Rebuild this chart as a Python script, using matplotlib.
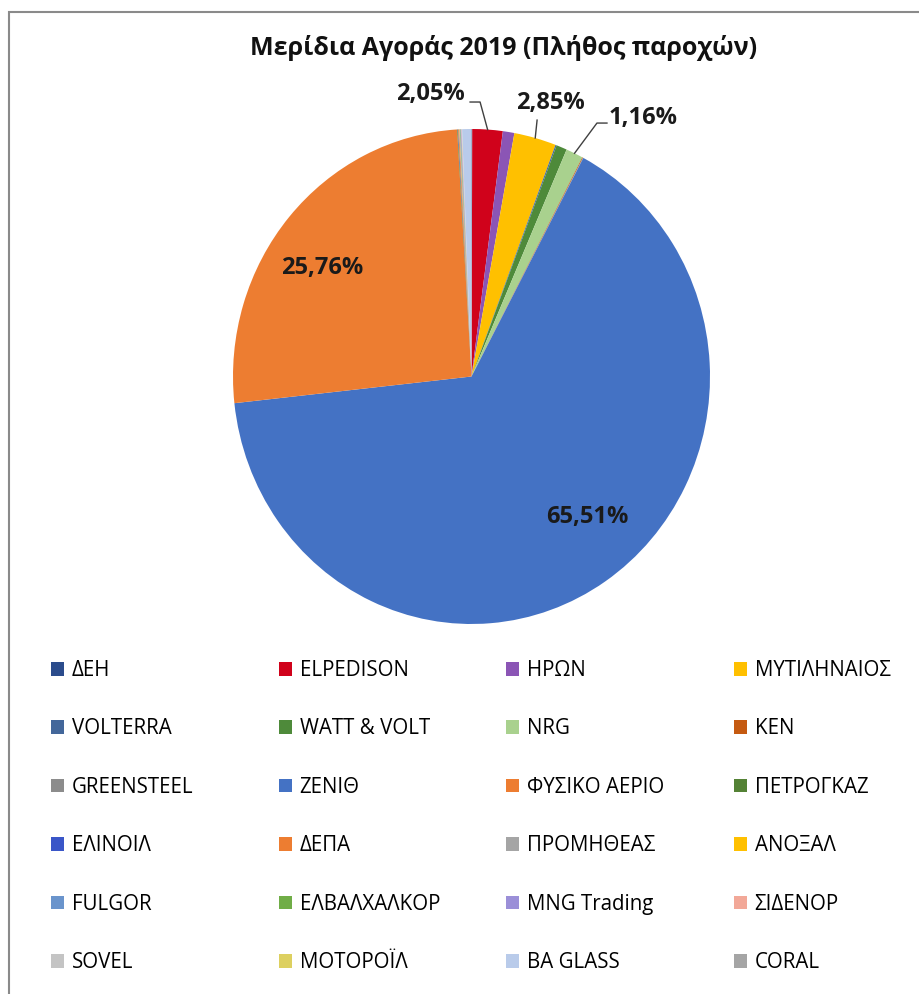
import numpy as np
import matplotlib
matplotlib.use("Agg")
import matplotlib.pyplot as plt
from matplotlib.patches import Rectangle

plt.rcParams['font.family'] = ['Open Sans', 'DejaVu Sans']

title = "Μερίδια Αγοράς 2019 (Πλήθος παροχών)"

companies = ["ΔΕΗ", "ELPEDISON", "ΗΡΩΝ", "ΜΥΤΙΛΗΝΑΙΟΣ",
             "VOLTERRA", "WATT & VOLT", "NRG", "ΚΕΝ",
             "GREENSTEEL", "ΖΕΝΙΘ", "ΦΥΣΙΚΟ ΑΕΡΙΟ", "ΠΕΤΡΟΓΚΑΖ",
             "ΕΛΙΝΟΙΛ", "ΔΕΠΑ", "ΠΡΟΜΗΘΕΑΣ", "ΑΝΟΞΑΛ",
             "FULGOR", "ΕΛΒΑΛΧΑΛΚΟΡ", "MNG Trading", "ΣΙΔΕΝΟΡ",
             "SOVEL", "ΜΟΤΟΡΟΪΛ", "BA GLASS", "CORAL"]
# share of supply points (%), unlabeled ones estimated
shares = [0.05, 2.05, 0.78, 2.85,
          0.08, 0.72, 1.16, 0.05,
          0.03, 65.51, 25.76, 0.04,
          0.03, 0.06, 0.03, 0.02,
          0.03, 0.03, 0.04, 0.02,
          0.02, 0.01, 0.62, 0.01]
colors = ["#2B4C8C", "#D0021B", "#8B55B5", "#FFC000",
          "#43679A", "#4E8A3A", "#A9D18E", "#C55A11",
          "#8C8C8C", "#4472C4", "#ED7D31", "#548235",
          "#3A56C8", "#ED7D31", "#A5A5A5", "#FFC000",
          "#6A94CC", "#70AD47", "#9B8FD8", "#F2A898",
          "#C4C4C4", "#DDD060", "#B9CBEA", "#A5A5A5"]

# which slices get a label, where the text sits (pie radius = 1), and leader elbows
labelled = [1, 3, 6, 9, 10]
label_pos = {1: (-0.174, 1.141), 3: (0.329, 1.105), 6: (0.719, 1.044),
             9: (0.484, -0.568), 10: (-0.627, 0.438)}
leader_elbow = {1: [(-0.006, 1.109), (0.036, 1.109)],
                3: [(0.275, 1.036)],
                6: [(0.568, 1.024), (0.526, 1.024)]}

W, H = 920, 994
fig = plt.figure(figsize=(W / 100, H / 100), dpi=100)
fig.patches.append(Rectangle((9 / W, -0.01), 1.0, 1 - 12 / H + 0.01,
                             transform=fig.transFigure, fill=False,
                             edgecolor="#8a8a8a", linewidth=1.5))

# pie is slightly stretched vertically in the original
cx, cy, rx, ry = 471.5, 376.5, 238.5, 247.5
ax = fig.add_axes([(cx - rx) / W, 1 - (cy + ry) / H, 2 * rx / W, 2 * ry / H])
wedges, _ = ax.pie(shares, colors=colors, startangle=90, counterclock=False,
                   radius=1.0, wedgeprops=dict(linewidth=0))
ax.set_xlim(-1, 1)
ax.set_ylim(-1, 1)
ax.set_aspect("auto")

for i in labelled:
    txt = "{:.2f}%".format(shares[i]).replace(".", ",")
    x, y = label_pos[i]
    ax.text(x, y, txt, ha="center", va="center", fontsize=17,
            fontweight="bold", color="#1a1a1a", clip_on=False)
    if i in leader_elbow:
        w = wedges[i]
        mid = np.deg2rad((w.theta1 + w.theta2) / 2)
        pts = leader_elbow[i] + [(np.cos(mid), np.sin(mid))]
        ax.plot([p[0] for p in pts], [p[1] for p in pts], color="#404040",
                linewidth=1.0, clip_on=False)

fig.text(504 / W, 1 - 48 / H, title, ha="center", va="center",
         fontsize=18, fontweight="bold", color="#111111")

# legend: 4 equal-width columns, reading row-wise
col_x = [51, 279, 506, 734]
for c in range(4):
    idx = [r * 4 + c for r in range(6)]
    fig.legend([wedges[k] for k in idx], [companies[k] for k in idx],
               loc="upper left", bbox_to_anchor=(col_x[c] / W, 1 - 660 / H),
               frameon=False, fontsize=14.8, handlelength=0.65, handleheight=0.65,
               handletextpad=0.35, labelspacing=1.82,
               borderpad=0, borderaxespad=0)

fig.savefig("out.png", dpi=100, facecolor="white")
